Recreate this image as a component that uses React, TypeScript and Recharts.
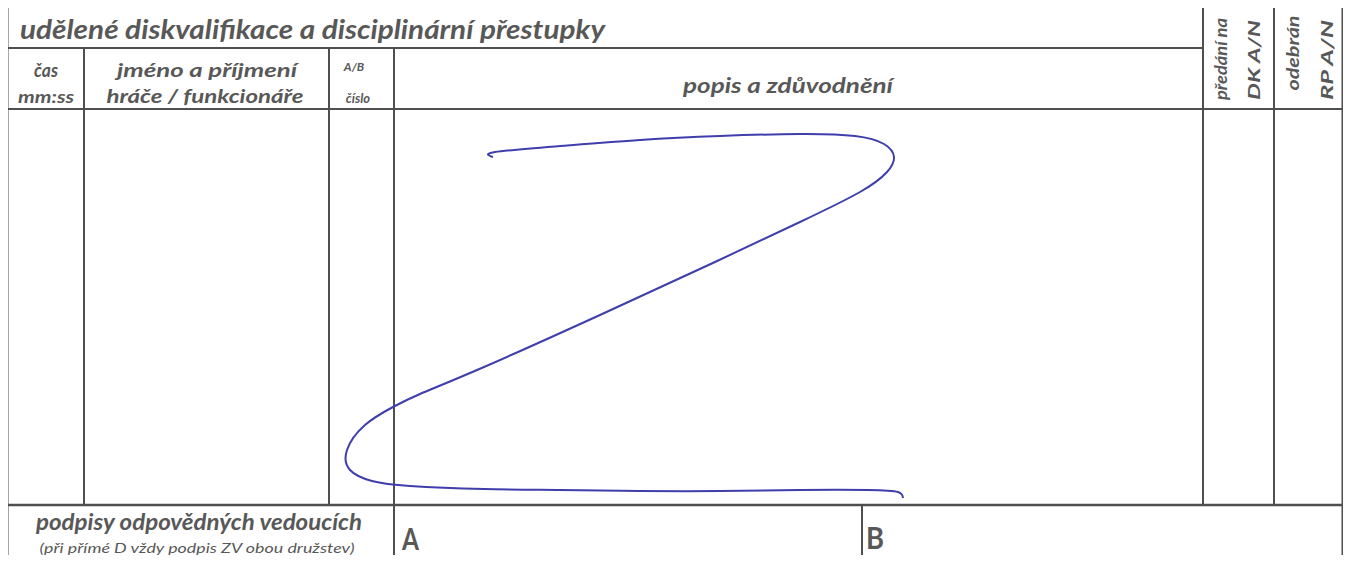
import { ComposedChart, Line, XAxis, YAxis, ReferenceLine, Customized } from 'recharts';

// hand drawn "Z" stroke (page pixels)
const strokeX = [493, 495, 560, 640, 720, 800, 855, 884, 894, 887, 860, 800, 715, 600, 484, 420, 393, 365, 347, 350, 372, 410, 484, 560, 640, 720, 800, 868, 898, 903];
const strokeY = [157, 152, 146, 140, 136, 134, 136, 144, 157, 172, 192, 222, 262, 315, 367, 394, 407, 425, 450, 470, 481, 486, 489, 490, 491, 491, 490, 490, 492, 498];

// table grid
const colLines = [84, 329, 394];
const sideCols = [1203, 1274];
const rightEdge = 1343;
const rowTitle = 48;
const rowHeader = 109;
const rowSign = 505;
const signSplit = 862;

const titleText = 'udělené diskvalifikace a disciplinární přestupky';
const headerTexts = ['čas', 'mm:ss', 'jméno a příjmení', 'hráče / funkcionáře', 'A/B', 'číslo', 'popis a zdůvodnění'];
const sideTexts = ['předání na', 'DK  A/N', 'odebrán', 'RP  A/N'];
const signTexts = ['podpisy odpovědných vedoucích', '(při přímé D vždy podpis ZV obou družstev)', 'A', 'B'];

const W = 1351;
const H = 563;
const INK = '#4f4f4f';
const TXT = '#585858';
const FONT = 'Lato, "Open Sans", sans-serif';

const strokeData = strokeX.map((x, i) => ({ x, y: strokeY[i] }));

function FormText() {
  const it = { fontFamily: FONT, fontStyle: 'italic', fontWeight: 700, fill: TXT };
  const fit = (w: number) => ({ textLength: w, lengthAdjust: 'spacingAndGlyphs' });
  return (
    <g>
      <text x={20} y={39} fontSize={26} {...it} {...fit(585)}>{titleText}</text>
      <text x={46} y={77} fontSize={18} textAnchor="middle" {...it} {...fit(24)}>{headerTexts[0]}</text>
      <text x={46} y={103} fontSize={17} textAnchor="middle" {...it} {...fit(56)}>{headerTexts[1]}</text>
      <text x={207} y={77} fontSize={19} textAnchor="middle" {...it} {...fit(180)}>{headerTexts[2]}</text>
      <text x={205} y={103} fontSize={19} textAnchor="middle" {...it} {...fit(197)}>{headerTexts[3]}</text>
      <text x={354} y={71} fontSize={12} textAnchor="middle" {...it}>{headerTexts[4]}</text>
      <text x={358} y={103} fontSize={13} textAnchor="middle" {...it}>{headerTexts[5]}</text>
      <text x={788} y={93} fontSize={20} textAnchor="middle" {...it} {...fit(210)}>{headerTexts[6]}</text>
      <text transform="translate(1227,59) rotate(-90)" fontSize={17} textAnchor="middle" {...it} {...fit(82)}>{sideTexts[0]}</text>
      <text transform="translate(1260,60) rotate(-90)" fontSize={17} textAnchor="middle" {...it} {...fit(80)}>{sideTexts[1]}</text>
      <text transform="translate(1299,53) rotate(-90)" fontSize={17} textAnchor="middle" {...it} {...fit(75)}>{sideTexts[2]}</text>
      <text transform="translate(1333,60) rotate(-90)" fontSize={17} textAnchor="middle" {...it} {...fit(80)}>{sideTexts[3]}</text>
      <text x={199} y={530} fontSize={23} textAnchor="middle" {...it} {...fit(326)}>{signTexts[0]}</text>
      <text x={197} y={553} fontSize={14} textAnchor="middle" fontFamily={FONT} fontStyle="italic" fill={TXT} {...fit(315)}>{signTexts[1]}</text>
      <text x={402} y={550} fontSize={30} fontFamily={FONT} fontWeight={700} fill={TXT} {...fit(17)}>{signTexts[2]}</text>
      <text x={866} y={549} fontSize={30} fontFamily={FONT} fontWeight={700} fill={TXT} {...fit(18)}>{signTexts[3]}</text>
    </g>
  );
}

export default function App() {
  const seg = (x1: number, y1: number, x2: number, y2: number, w = 2) => (
    <ReferenceLine
      key={`${x1}-${y1}-${x2}-${y2}`}
      segment={[{ x: x1, y: y1 }, { x: x2, y: y2 }]}
      stroke={INK}
      strokeWidth={w}
      ifOverflow="visible"
    />
  );

  return (
    <div style={{ margin: -8, width: W, height: H, background: '#fff' }}>
      <ComposedChart width={W} height={H} data={strokeData} margin={{ top: 0, right: 0, bottom: 0, left: 0 }}>
        <XAxis type="number" dataKey="x" domain={[0, W]} hide />
        <YAxis type="number" dataKey="y" domain={[0, H]} reversed hide />
        {/* outer frame */}
        {seg(6, 6, rightEdge, 6, 3)}
        {seg(7, 6, 7, H, 3)}
        {seg(rightEdge, 6, rightEdge, H, 3)}
        {/* rows */}
        {seg(6, rowTitle, sideCols[0], rowTitle)}
        {seg(6, rowHeader, rightEdge, rowHeader)}
        {seg(6, rowSign, rightEdge, rowSign, 2.5)}
        {/* columns */}
        {colLines.slice(0, 2).map((x) => seg(x, rowTitle, x, rowSign))}
        {seg(colLines[2], rowTitle, colLines[2], H)}
        {sideCols.map((x) => seg(x, 6, x, rowSign))}
        {seg(signSplit, rowSign, signSplit, H)}
        <Customized component={<FormText />} />
        <Line
          type="natural"
          dataKey="y"
          stroke="#3f3fac"
          strokeWidth={2}
          dot={false}
          isAnimationActive={false}
        />
      </ComposedChart>
    </div>
  );
}
